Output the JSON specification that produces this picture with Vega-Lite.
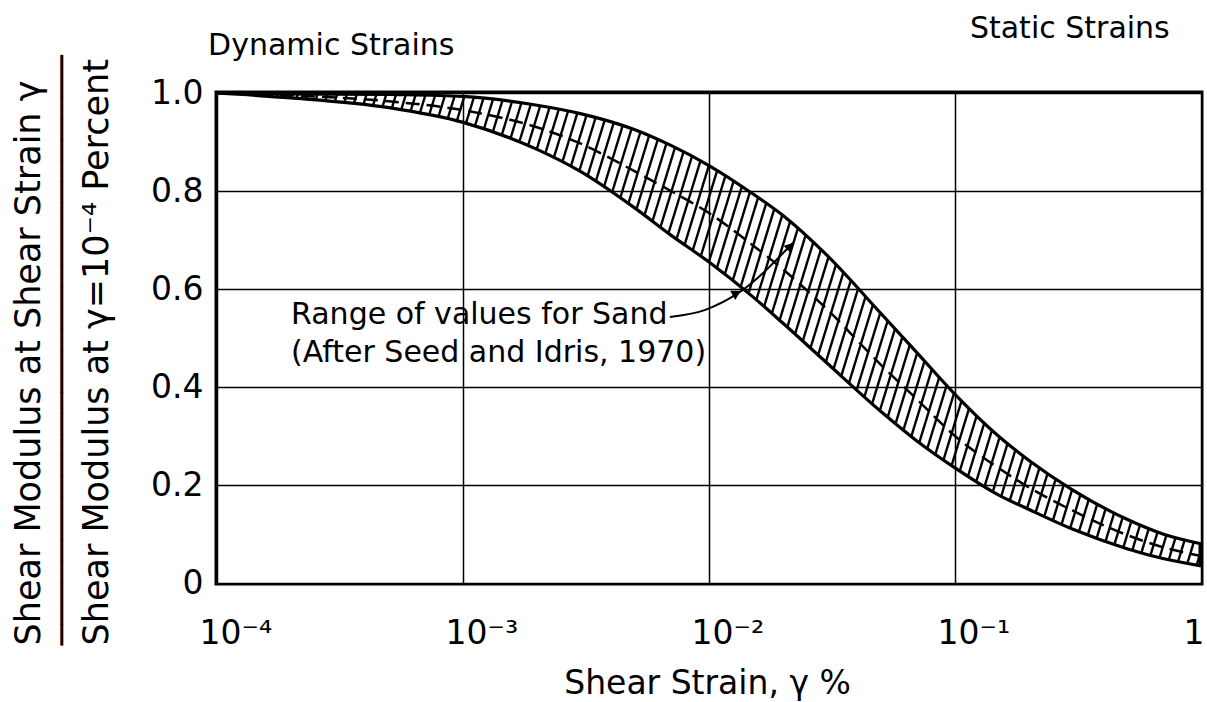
{
  "$schema": "https://vega.github.io/schema/vega-lite/v6.json",
  "width": 984,
  "height": 490,
  "autosize": {"type": "none"},
  "padding": {"left": 217, "top": 93, "right": 6, "bottom": 119},
  "background": "white",
  "config": {
    "view": {"stroke": "black", "strokeWidth": 5},
    "font": "DejaVu Sans"
  },
  "datasets": {
    "band": [
      {"x": 0.0001, "up": 1.0, "lo": 1.0, "mid": 1.0},
      {"x": 0.0002, "up": 0.999, "lo": 0.99, "mid": 0.995},
      {"x": 0.0005, "up": 0.997, "lo": 0.97, "mid": 0.983},
      {"x": 0.001, "up": 0.993, "lo": 0.94, "mid": 0.965},
      {"x": 0.002, "up": 0.975, "lo": 0.885, "mid": 0.93},
      {"x": 0.003, "up": 0.958, "lo": 0.84, "mid": 0.897},
      {"x": 0.005, "up": 0.925, "lo": 0.765, "mid": 0.84},
      {"x": 0.007, "up": 0.893, "lo": 0.71, "mid": 0.8},
      {"x": 0.01, "up": 0.852, "lo": 0.655, "mid": 0.755},
      {"x": 0.015, "up": 0.795, "lo": 0.585, "mid": 0.69},
      {"x": 0.02, "up": 0.75, "lo": 0.53, "mid": 0.64},
      {"x": 0.03, "up": 0.67, "lo": 0.45, "mid": 0.56},
      {"x": 0.05, "up": 0.55, "lo": 0.35, "mid": 0.445},
      {"x": 0.07, "up": 0.47, "lo": 0.29, "mid": 0.375},
      {"x": 0.1, "up": 0.385, "lo": 0.235, "mid": 0.3},
      {"x": 0.15, "up": 0.3, "lo": 0.18, "mid": 0.235},
      {"x": 0.2, "up": 0.25, "lo": 0.15, "mid": 0.195},
      {"x": 0.3, "up": 0.19, "lo": 0.11, "mid": 0.148},
      {"x": 0.5, "up": 0.13, "lo": 0.07, "mid": 0.098},
      {"x": 0.7, "up": 0.1, "lo": 0.05, "mid": 0.073},
      {"x": 1, "up": 0.08, "lo": 0.035, "mid": 0.055}
    ],
    "hatch": [
      {"h": 0.000025119}, {"h": 0.000027542}, {"h": 0.0000302}, {"h": 0.000033113}, {"h": 0.000036308}, {"h": 0.000039811}, {"h": 0.000043652}, {"h": 0.000047863}, {"h": 0.000052481}, {"h": 0.000057544}, {"h": 0.000063096}, {"h": 0.000069183}, {"h": 0.000075858}, {"h": 0.000083176}, {"h": 0.000091201},
      {"h": 0.0001}, {"h": 0.00010965}, {"h": 0.00012023}, {"h": 0.00013183}, {"h": 0.00014454}, {"h": 0.00015849}, {"h": 0.00017378}, {"h": 0.00019055}, {"h": 0.00020893}, {"h": 0.00022909}, {"h": 0.00025119}, {"h": 0.00027542}, {"h": 0.000302}, {"h": 0.00033113}, {"h": 0.00036308}, {"h": 0.00039811}, {"h": 0.00043652}, {"h": 0.00047863}, {"h": 0.00052481}, {"h": 0.00057544}, {"h": 0.00063096}, {"h": 0.00069183}, {"h": 0.00075858}, {"h": 0.00083176}, {"h": 0.00091201},
      {"h": 0.001}, {"h": 0.0010965}, {"h": 0.0012023}, {"h": 0.0013183}, {"h": 0.0014454}, {"h": 0.0015849}, {"h": 0.0017378}, {"h": 0.0019055}, {"h": 0.0020893}, {"h": 0.0022909}, {"h": 0.0025119}, {"h": 0.0027542}, {"h": 0.00302}, {"h": 0.0033113}, {"h": 0.0036308}, {"h": 0.0039811}, {"h": 0.0043652}, {"h": 0.0047863}, {"h": 0.0052481}, {"h": 0.0057544}, {"h": 0.0063096}, {"h": 0.0069183}, {"h": 0.0075858}, {"h": 0.0083176}, {"h": 0.0091201},
      {"h": 0.01}, {"h": 0.010965}, {"h": 0.012023}, {"h": 0.013183}, {"h": 0.014454}, {"h": 0.015849}, {"h": 0.017378}, {"h": 0.019055}, {"h": 0.020893}, {"h": 0.022909}, {"h": 0.025119}, {"h": 0.027542}, {"h": 0.0302}, {"h": 0.033113}, {"h": 0.036308}, {"h": 0.039811}, {"h": 0.043652}, {"h": 0.047863}, {"h": 0.052481}, {"h": 0.057544}, {"h": 0.063096}, {"h": 0.069183}, {"h": 0.075858}, {"h": 0.083176}, {"h": 0.091201},
      {"h": 0.1}, {"h": 0.10965}, {"h": 0.12023}, {"h": 0.13183}, {"h": 0.14454}, {"h": 0.15849}, {"h": 0.17378}, {"h": 0.19055}, {"h": 0.20893}, {"h": 0.22909}, {"h": 0.25119}, {"h": 0.27542}, {"h": 0.302}, {"h": 0.33113}, {"h": 0.36308}, {"h": 0.39811}, {"h": 0.43652}, {"h": 0.47863}, {"h": 0.52481}, {"h": 0.57544}, {"h": 0.63096}, {"h": 0.69183}, {"h": 0.75858}, {"h": 0.83176}, {"h": 0.91201},
      {"h": 1}
    ],
    "notes": [
      {"t": "Dynamic Strains", "x": 0.000092, "y": 1.078},
      {"t": "Static Strains", "x": 0.115, "y": 1.112},
      {"t": "Range of values for Sand", "x": 0.0002, "y": 0.529},
      {"t": "(After Seed and Idris, 1970)", "x": 0.0002, "y": 0.451}
    ],
    "arrow": [
      {"x": 0.00693, "y": 0.543},
      {"x": 0.0096, "y": 0.557},
      {"x": 0.01336, "y": 0.594},
      {"x": 0.0219, "y": 0.694}
    ],
    "heads": [
      {"k": 1, "x": 0.0128, "y": 0.59},
      {"k": 2, "x": 0.0212, "y": 0.685}
    ]
  },
  "layer": [
    {
      "data": {"name": "hatch"},
      "mark": {"type": "rule", "clip": true, "strokeWidth": 2.4, "color": "black", "x2Offset": 150},
      "encoding": {
        "x": {
          "field": "h", "type": "quantitative",
          "scale": {"type": "log", "domain": [0.0001, 1], "nice": false},
          "axis": {
            "values": [0.0001, 0.001, 0.01, 0.1, 1],
            "grid": true, "gridColor": "black", "gridWidth": 1.5, "gridOpacity": 1,
            "ticks": false, "domain": false, "zindex": 1,
            "labelFont": "DejaVu Sans", "labelFontSize": 33, "labelColor": "black",
            "labelAlign": "left", "labelOffset": -18, "labelBaseline": "alphabetic",
            "labelPadding": 60, "labelFlush": false, "labelOverlap": false, "labelBound": false,
            "labelExpr": "datum.value < 0.00015 ? '10⁻⁴' : datum.value < 0.0015 ? '10⁻³' : datum.value < 0.015 ? '10⁻²' : datum.value < 0.15 ? '10⁻¹' : '1'",
            "title": "Shear Strain, γ %",
            "titleFont": "DejaVu Sans", "titleFontSize": 33, "titleFontWeight": "normal", "titleColor": "black",
            "titleBaseline": "alphabetic", "titleAlign": "center", "titleX": 490, "titleY": 110
          }
        },
        "x2": {"field": "h"},
        "y": {
          "datum": 0, "type": "quantitative",
          "scale": {"domain": [0, 1], "nice": false},
          "axis": {
            "values": [0, 0.2, 0.4, 0.6, 0.8, 1],
            "grid": true, "gridColor": "black", "gridWidth": 1.5, "gridOpacity": 1,
            "ticks": false, "domain": false, "zindex": 1,
            "labelFont": "DejaVu Sans", "labelFontSize": 33, "labelColor": "black",
            "labelPadding": 14, "labelBaseline": "middle",
            "labelExpr": "datum.value == 0 ? '0' : format(datum.value, '.1f')",
            "title": ["Shear Modulus at Shear Strain γ", "────────────────────────────", "Shear Modulus at γ=10⁻⁴ Percent"],
            "titleFont": "DejaVu Sans", "titleFontSize": 35, "titleFontWeight": "normal", "titleColor": "black",
            "titleLineHeight": 34, "titleAngle": 270, "titleAlign": "left", "titleBaseline": "alphabetic",
            "titleX": -178, "titleY": 552
          }
        },
        "y2": {"datum": 1}
      }
    },
    {
      "data": {"name": "band"},
      "mark": {"type": "area", "color": "white", "opacity": 1, "interpolate": "monotone"},
      "encoding": {
        "x": {"field": "x", "type": "quantitative"},
        "y": {"field": "up", "type": "quantitative"},
        "y2": {"datum": 1}
      }
    },
    {
      "data": {"name": "band"},
      "mark": {"type": "area", "color": "white", "opacity": 1, "interpolate": "monotone"},
      "encoding": {
        "x": {"field": "x", "type": "quantitative"},
        "y": {"field": "lo", "type": "quantitative"},
        "y2": {"datum": 0}
      }
    },
    {
      "data": {"name": "band"},
      "mark": {"type": "line", "color": "black", "strokeWidth": 3.2, "interpolate": "monotone"},
      "encoding": {
        "x": {"field": "x", "type": "quantitative"},
        "y": {"field": "up", "type": "quantitative"}
      }
    },
    {
      "data": {"name": "band"},
      "mark": {"type": "line", "color": "black", "strokeWidth": 3.2, "interpolate": "monotone"},
      "encoding": {
        "x": {"field": "x", "type": "quantitative"},
        "y": {"field": "lo", "type": "quantitative"}
      }
    },
    {
      "data": {"name": "band"},
      "mark": {"type": "line", "color": "black", "strokeWidth": 2.5, "strokeDash": [14, 7], "interpolate": "monotone"},
      "encoding": {
        "x": {"field": "x", "type": "quantitative"},
        "y": {"field": "mid", "type": "quantitative"}
      }
    },
    {
      "data": {"name": "arrow"},
      "mark": {"type": "line", "color": "black", "strokeWidth": 2, "interpolate": "monotone"},
      "encoding": {
        "x": {"field": "x", "type": "quantitative"},
        "y": {"field": "y", "type": "quantitative"}
      }
    },
    {
      "data": {"name": "heads"},
      "transform": [{"filter": "datum.k == 1"}],
      "mark": {"type": "point", "shape": "triangle", "filled": true, "color": "black", "opacity": 1, "size": 110, "angle": 61},
      "encoding": {
        "x": {"field": "x", "type": "quantitative"},
        "y": {"field": "y", "type": "quantitative"}
      }
    },
    {
      "data": {"name": "heads"},
      "transform": [{"filter": "datum.k == 2"}],
      "mark": {"type": "point", "shape": "triangle", "filled": true, "color": "black", "opacity": 1, "size": 110, "angle": 45},
      "encoding": {
        "x": {"field": "x", "type": "quantitative"},
        "y": {"field": "y", "type": "quantitative"}
      }
    },
    {
      "data": {"name": "notes"},
      "mark": {"type": "text", "align": "left", "baseline": "alphabetic", "fontSize": 30, "font": "DejaVu Sans", "color": "black"},
      "encoding": {
        "x": {"field": "x", "type": "quantitative"},
        "y": {"field": "y", "type": "quantitative"},
        "text": {"field": "t"}
      }
    }
  ]
}
